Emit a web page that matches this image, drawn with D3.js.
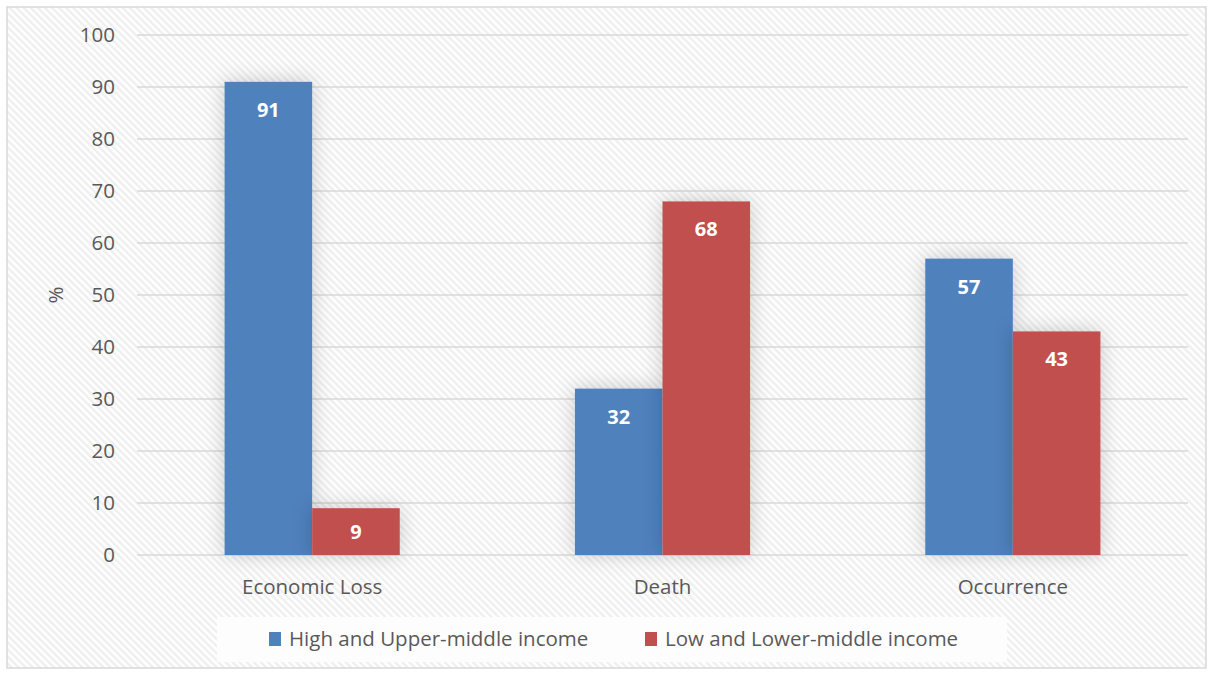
<!DOCTYPE html>
<html>
<head>
<meta charset="utf-8">
<script src="https://cdn.jsdelivr.net/npm/d3@7/dist/d3.min.js"></script>
<style>
  body { margin: 0; background: #fff; }
  svg text { font-family: "Open Sans", sans-serif; }
</style>
</head>
<body>
<div id="chart"></div>
<script>
// --- data ---
const categories = ["Economic Loss", "Death", "Occurrence"];
const seriesNames = ["High and Upper-middle income", "Low and Lower-middle income"];
const highIncome = [91, 32, 57];
const lowIncome = [9, 68, 43];
const yTicks = [0, 10, 20, 30, 40, 50, 60, 70, 80, 90, 100];
const colors = ["#4f81bd", "#c0504d"];

const W = 1213, H = 675;
const margin = { left: 137, right: 25, top: 35, bottom: 120 };
const fontSize = 20.5;

const svg = d3.select("#chart").append("svg")
  .attr("width", W).attr("height", H);

const defs = svg.append("defs");
// diagonal stripe background, "\" direction
const pat = defs.append("pattern")
  .attr("id", "stripes")
  .attr("width", 5).attr("height", 5)
  .attr("patternUnits", "userSpaceOnUse")
  .attr("patternTransform", "rotate(-45)");
pat.append("rect").attr("width", 5).attr("height", 5).attr("fill", "#ffffff");
pat.append("rect").attr("width", 2.5).attr("height", 5).attr("fill", "#efefef");

const shadow = defs.append("filter")
  .attr("id", "shadow")
  .attr("x", "-50%").attr("y", "-50%").attr("width", "200%").attr("height", "200%");
shadow.append("feDropShadow")
  .attr("dx", 0).attr("dy", 0)
  .attr("stdDeviation", 10)
  .attr("flood-color", "#000").attr("flood-opacity", 0.2);

// background + frame
svg.append("rect")
  .attr("x", 7).attr("y", 7).attr("width", W - 14).attr("height", H - 14)
  .attr("fill", "url(#stripes)")
  .attr("stroke", "#d9d9d9").attr("stroke-width", 1.5);

const x0 = d3.scaleBand()
  .domain(categories)
  .range([margin.left, W - margin.right])
  .paddingInner(0.5).paddingOuter(0.25);

const x1 = d3.scaleBand()
  .domain([0, 1])
  .range([0, x0.bandwidth()]);

const y = d3.scaleLinear().domain([0, 100]).range([H - margin.bottom, margin.top]);

// gridlines
svg.append("g")
  .selectAll("line")
  .data(yTicks)
  .join("line")
  .attr("x1", margin.left).attr("x2", W - margin.right)
  .attr("y1", d => y(d)).attr("y2", d => y(d))
  .attr("stroke", "#d9d9d9").attr("stroke-width", 1.5);

// y tick labels
svg.append("g")
  .selectAll("text")
  .data(yTicks)
  .join("text")
  .attr("x", 115).attr("y", d => y(d))
  .attr("dy", "0.35em")
  .attr("text-anchor", "end")
  .attr("font-size", fontSize)
  .attr("fill", "#595959")
  .text(d => d);

// y axis title
svg.append("text")
  .attr("transform", `translate(63,${(y(0) + y(100)) / 2}) rotate(-90)`)
  .attr("text-anchor", "middle")
  .attr("font-size", fontSize)
  .attr("fill", "#595959")
  .text("%");

// bars
const rows = categories.map((c, i) => ({ cat: c, vals: [highIncome[i], lowIncome[i]] }));

const groups = svg.append("g")
  .selectAll("g")
  .data(rows)
  .join("g")
  .attr("transform", d => `translate(${x0(d.cat)},0)`);

groups.selectAll("rect")
  .data(d => d.vals.map((v, k) => ({ v, k })))
  .join("rect")
  .attr("x", d => x1(d.k))
  .attr("y", d => y(d.v))
  .attr("width", x1.bandwidth())
  .attr("height", d => y(0) - y(d.v))
  .attr("fill", d => colors[d.k])
  .attr("filter", "url(#shadow)");

groups.selectAll("text")
  .data(d => d.vals.map((v, k) => ({ v, k })))
  .join("text")
  .attr("x", d => x1(d.k) + x1.bandwidth() / 2)
  .attr("y", d => Math.min(y(d.v) + 28, (y(d.v) + y(0)) / 2))
  .attr("dy", "0.35em")
  .attr("text-anchor", "middle")
  .attr("font-size", 20)
  .attr("font-weight", "bold")
  .attr("fill", "#fff")
  .text(d => d.v);

// category labels
svg.append("g")
  .selectAll("text")
  .data(categories)
  .join("text")
  .attr("x", d => x0(d) + x0.bandwidth() / 2)
  .attr("y", y(0) + 32)
  .attr("dy", "0.35em")
  .attr("text-anchor", "middle")
  .attr("font-size", fontSize)
  .attr("fill", "#595959")
  .text(d => d);

// legend
const legend = svg.append("g");
legend.append("rect")
  .attr("x", 217).attr("y", 617).attr("width", 790).attr("height", 45)
  .attr("fill", "#fdfdfd");
const legendX = [269, 645];
const items = legend.selectAll("g")
  .data(seriesNames)
  .join("g")
  .attr("transform", (d, i) => `translate(${legendX[i]},639)`);
items.append("rect")
  .attr("x", 0).attr("y", -7).attr("width", 12).attr("height", 14)
  .attr("fill", (d, i) => colors[i]);
items.append("text")
  .attr("x", 20).attr("y", 0).attr("dy", "0.35em")
  .attr("font-size", fontSize)
  .attr("fill", "#595959")
  .text(d => d);
</script>
</body>
</html>
